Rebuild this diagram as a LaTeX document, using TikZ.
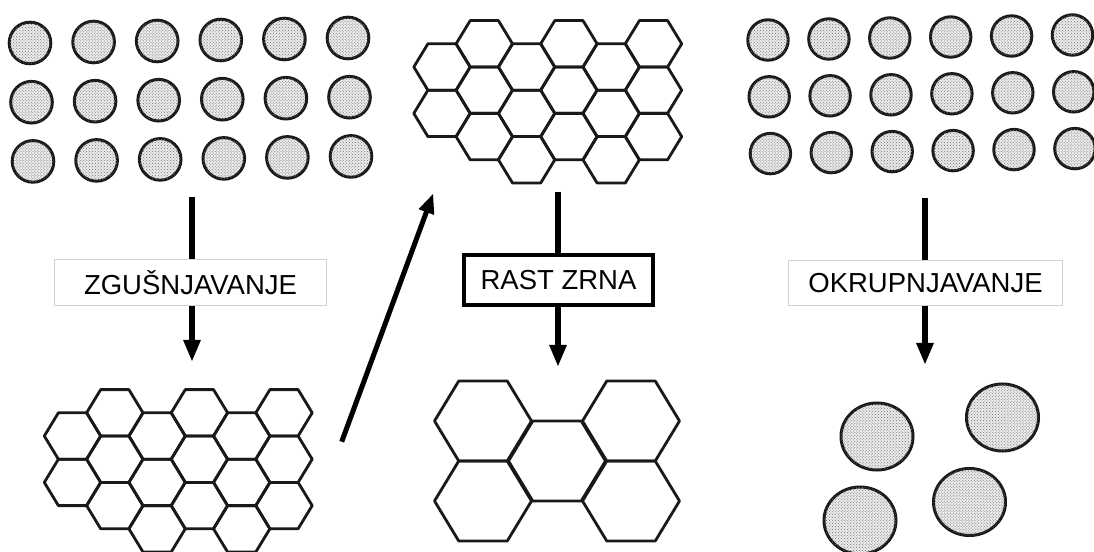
\documentclass[tikz,border=0pt]{standalone}
\usepackage{fontspec}
\setmainfont{Liberation Sans}
\usetikzlibrary{arrows.meta,patterns}
\newcommand{\hexcell}[4]{%
  \draw[hexline] ({#1-#3},{#2}) -- ({#1-#3/2},{#2-#4}) -- ({#1+#3/2},{#2-#4}) -- ({#1+#3},{#2}) -- ({#1+#3/2},{#2+#4}) -- ({#1-#3/2},{#2+#4}) -- cycle;}
\newcommand{\smallgrid}[2]{%
  \foreach \i/\n in {0/2,1/3,2/3,3/3,4/3,5/3}{
    \foreach \j in {1,...,\n}{
      \pgfmathsetmacro\hx{#1+42.3*\i}
      \pgfmathsetmacro\hy{#2+46.4*(\j-1)-23.2*mod(\i,2)}
      \hexcell{\hx}{\hy}{28.2}{23.2}
    }
  }}
\tikzset{
  hexline/.style={draw=black!90, line width=2.8bp, line join=round},
  grain/.style={draw=black!90, line width=3bp, fill=black!8,
    postaction={pattern=crosshatch dots, pattern color=black!55}},
  bigarrow/.style={draw=black, line width=6.5bp, -{Triangle[length=22bp,width=16bp]}},
  diagarrow/.style={draw=black, line width=5bp, -{Triangle[length=20bp,width=15bp]}},
  lightbox/.style={draw=black!18, line width=1bp, fill=white, inner sep=0pt,
    font=\fontsize{27.5bp}{33bp}\selectfont, text=black},
  boldbox/.style={draw=black, line width=4bp, fill=white, inner sep=0pt,
    font=\fontsize{27.5bp}{33bp}\selectfont, text=black}
}
\begin{document}
\begin{tikzpicture}[x=1bp,y=-1bp]
\useasboundingbox[fill=white] (0,0) rectangle (1094,552);

% ---- top-left: separate particles
\foreach \r in {0,1,2}{
  \foreach \k in {0,...,5}{
    \draw[grain] ({30+1.5*\r+63.6*\k},{43+59.2*\r-1*\k}) circle[radius=20.8];
  }}

% ---- top-right: separate particles
\foreach \r in {0,1,2}{
  \foreach \k in {0,...,5}{
    \draw[grain] ({768+1.2*\r+60.9*\k},{40+56.8*\r-1*\k}) circle[radius=20.2];
  }}

% ---- hexagon grids
\smallgrid{442}{67}
\smallgrid{72.5}{436}

% ---- big grains (grain growth)
\hexcell{483}{421}{48.5}{40}
\hexcell{483}{501}{48.5}{40}
\hexcell{557}{461}{48.5}{40}
\hexcell{631}{421}{48.5}{40}
\hexcell{631}{501}{48.5}{40}

% ---- coarsened particles
\draw[grain] (877,436.5) ellipse[x radius=36, y radius=33.5];
\draw[grain] (1002.5,417.5) ellipse[x radius=36, y radius=33.5];
\draw[grain] (969.5,502) ellipse[x radius=36, y radius=33.5];
\draw[grain] (860,520.5) ellipse[x radius=36, y radius=33.5];

% ---- arrow coordinates
\coordinate (a1s) at (192,197);
\coordinate (a1e) at (192,362);
\coordinate (a2s) at (558,192);
\coordinate (a2e) at (558,367);
\coordinate (a3s) at (925,198);
\coordinate (a3e) at (925,365);
\coordinate (dgs) at (341.7,441.7);
\coordinate (dge) at (433.3,193.3);

\draw[bigarrow] (a1s) -- (a1e);
\draw[bigarrow] (a2s) -- (a2e);
\draw[bigarrow] (a3s) -- (a3e);
\draw[diagarrow] (dgs) -- (dge);

% ---- labels
\node[lightbox, minimum width=272bp, minimum height=46bp] (zg) at (190.5,282.5) {ZGUŠNJAVANJE};
\node[boldbox, minimum width=189bp, minimum height=50bp] (rz) at (558.5,280) {RAST ZRNA};
\node[lightbox, minimum width=274bp, minimum height=45bp] (ok) at (925.5,283) {OKRUPNJAVANJE};
\end{tikzpicture}
\end{document}
